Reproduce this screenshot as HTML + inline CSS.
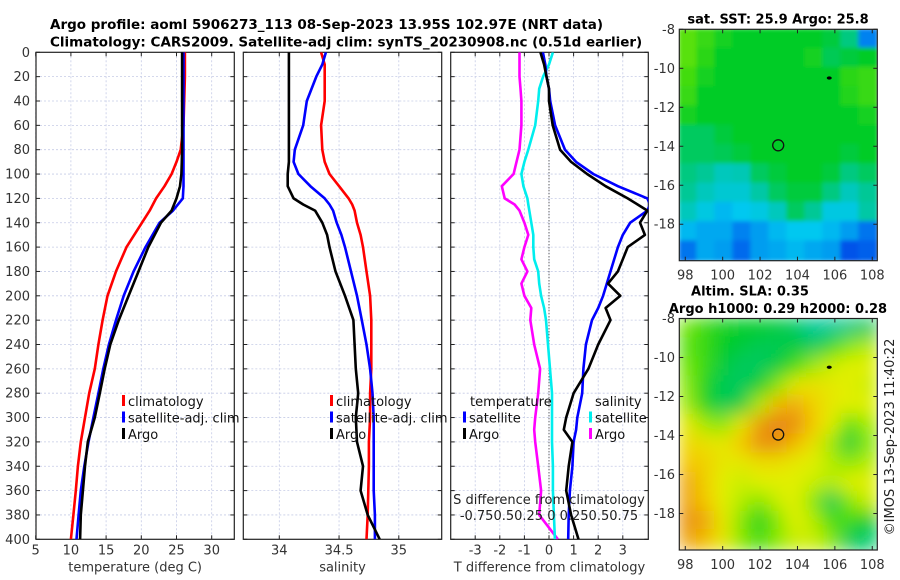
<!DOCTYPE html>
<html><head><meta charset="utf-8">
<style>
html,body{margin:0;padding:0;background:#fff;}
svg{display:block;font-family:"DejaVu Sans","Liberation Sans",sans-serif;}
</style></head>
<body>
<svg id="fig" width="900" height="580" viewBox="0 0 900 580">
<defs>
<filter id="blurS" x="-5%" y="-5%" width="110%" height="110%"><feGaussianBlur stdDeviation="2"/></filter>
<filter id="blurL" x="-5%" y="-5%" width="110%" height="110%"><feGaussianBlur stdDeviation="9"/></filter>
<clipPath id="clipTop"><rect x="679.3" y="29.3" width="198" height="231.4"/></clipPath>
<clipPath id="clipBot"><rect x="679.3" y="318.5" width="198" height="231.5"/></clipPath>
<clipPath id="clipP1"><rect x="36" y="52.3" width="198.3" height="487"/></clipPath>
<clipPath id="clipP2"><rect x="243.3" y="52.3" width="198.4" height="487"/></clipPath>
<clipPath id="clipP3"><rect x="450.7" y="52.3" width="197.6" height="487"/></clipPath>
</defs>
<g font-weight="bold" font-size="13.5" fill="#000">
<text x="50" y="29">Argo profile: aoml 5906273_113 08-Sep-2023 13.95S 102.97E (NRT data)</text>
<text x="50" y="46.5">Climatology: CARS2009. Satellite-adj clim: synTS_20230908.nc (0.51d earlier)</text>
</g>
<g id="layer"></g>
</svg>
<script>
// ---------- profile data ----------
const depthTicks = [0,20,40,60,80,100,120,140,160,180,200,220,240,260,280,300,320,340,360,380,400];
const tempTicks = [5,10,15,20,25,30];
const salTicks = [34,34.5,35];
const salTickLabels = ["34","34.5","35"];
const tdiffTicks = [-3,-2,-1,0,1,2,3];

const tDepth = [0,20,40,60,80,90,100,110,120,130,140,160,180,200,220,240,260,280,300,320,340,360,380,400];
const tClim  = [26.2,26.2,26.1,26.0,25.6,25.0,24.3,23.3,22.1,21.2,20.1,17.9,16.4,15.2,14.5,13.9,13.4,12.6,12.0,11.4,11.0,10.7,10.35,10.0];
const tSat   = [26.0,26.0,26.0,26.0,26.0,26.0,26.0,26.0,25.9,24.5,22.6,20.6,18.9,17.5,16.4,15.4,14.6,13.9,13.2,12.5,11.9,11.4,11.1,10.8];
const tArgo  = [25.8,25.8,25.8,25.8,25.8,25.75,25.7,25.5,25.0,24.3,22.8,21.0,19.6,18.2,16.8,15.6,14.8,14.1,13.4,12.4,12.0,11.7,11.4,11.3];

const sDepth = [0,10,20,40,60,80,90,100,110,120,125,130,140,150,160,180,200,220,240,260,280,300,320,340,360,380,400];
const sClim  = [34.35,34.38,34.38,34.38,34.35,34.36,34.38,34.42,34.50,34.58,34.61,34.63,34.65,34.68,34.70,34.73,34.76,34.77,34.77,34.77,34.76,34.76,34.75,34.75,34.745,34.74,34.73];
const sSat   = [34.39,34.36,34.31,34.23,34.20,34.13,34.12,34.16,34.26,34.38,34.42,34.45,34.48,34.52,34.55,34.60,34.65,34.69,34.73,34.76,34.78,34.79,34.79,34.79,34.79,34.80,34.80];
const sArgo  = [34.08,34.08,34.08,34.08,34.08,34.08,34.08,34.07,34.07,34.12,34.20,34.30,34.36,34.40,34.42,34.47,34.55,34.62,34.63,34.64,34.66,34.64,34.65,34.70,34.68,34.74,34.84];

const dDepth = [0,10,20,30,40,60,80,90,100,110,120,125,130,140,150,160,170,180,190,200,210,220,240,260,280,300,310,320,340,360,380,400];
const dTSat  = [-0.25,-0.15,-0.1,0,0.05,0.25,0.65,1.1,1.8,2.8,4.0,4.1,4.0,3.3,3.0,2.8,2.65,2.5,2.35,2.2,2.0,1.75,1.5,1.4,1.35,1.15,1.1,1.0,0.95,0.85,0.8,0.78];
const dTArgo = [-0.35,-0.2,-0.1,0,0,0.15,0.45,0.9,1.55,2.3,3.2,3.6,4.0,3.7,3.9,3.2,3.0,2.8,2.4,2.9,2.3,2.5,2.0,1.6,1.0,0.7,0.6,0.95,0.8,0.7,0.9,1.2];
const dSSat  = [0.04,0,-0.06,-0.1,-0.11,-0.14,-0.21,-0.25,-0.28,-0.26,-0.22,-0.21,-0.2,-0.18,-0.16,-0.16,-0.15,-0.11,-0.1,-0.08,-0.05,-0.03,-0.01,0.01,0.03,0.03,0.03,0.03,0.04,0.04,0.05,0.06];
const dSArgo = [-0.3,-0.3,-0.3,-0.29,-0.28,-0.28,-0.3,-0.33,-0.36,-0.48,-0.45,-0.35,-0.3,-0.25,-0.21,-0.25,-0.28,-0.22,-0.28,-0.25,-0.18,-0.19,-0.15,-0.09,-0.11,-0.14,-0.15,-0.14,-0.11,-0.08,-0.1,0.09];

// ---------- map data (colour-scale index 0..1), rows lat -8 -> -20, cols lon 98 -> 108 ----------
const sstGrid = [
[.58,.55,.52,.50,.50,.50,.50,.50,.48,.42,.15],
[.58,.54,.50,.50,.50,.50,.50,.52,.46,.48,.50],
[.56,.52,.50,.50,.50,.50,.50,.50,.50,.54,.55],
[.55,.50,.50,.50,.50,.50,.50,.50,.50,.53,.55],
[.52,.50,.50,.50,.50,.50,.50,.50,.50,.50,.52],
[.45,.45,.48,.50,.50,.50,.50,.50,.50,.50,.50],
[.45,.45,.46,.48,.50,.50,.50,.50,.50,.48,.50],
[.42,.40,.35,.36,.45,.48,.50,.50,.48,.42,.45],
[.40,.35,.32,.32,.38,.45,.48,.48,.42,.35,.40],
[.35,.30,.25,.28,.30,.35,.45,.40,.30,.30,.38],
[.25,.22,.22,.15,.20,.25,.28,.28,.25,.20,.12],
[.12,.22,.20,.10,.20,.22,.25,.22,.20,.05,.08]];
const slaGrid = [
[.60,.55,.52,.50,.50,.48,.45,.40,.40,.42,.45],
[.58,.55,.50,.48,.46,.46,.48,.45,.55,.62,.66],
[.60,.55,.48,.45,.45,.48,.56,.64,.68,.70,.70],
[.62,.52,.46,.45,.50,.62,.72,.74,.72,.70,.68],
[.64,.52,.46,.48,.66,.82,.84,.78,.72,.70,.70],
[.72,.64,.62,.72,.86,.90,.88,.80,.70,.58,.65],
[.76,.74,.72,.80,.88,.88,.82,.74,.64,.48,.62],
[.80,.78,.72,.72,.75,.75,.72,.70,.66,.62,.66],
[.85,.78,.70,.68,.70,.70,.70,.68,.66,.70,.70],
[.85,.80,.70,.66,.62,.68,.70,.62,.46,.62,.68],
[.88,.85,.72,.62,.52,.62,.70,.66,.56,.56,.50],
[.85,.82,.72,.62,.56,.62,.68,.68,.62,.46,.44]];
const latTicks = [-8,-10,-12,-14,-16,-18];
const lonTicks = [98,100,102,104,106,108];
const argoPos = [102.97,-13.95];
const otherFloat = [105.7,-10.5];

// ---------- helpers ----------
const NS = "http://www.w3.org/2000/svg";
const layer = document.getElementById('layer');
function mk(tag, attrs, parent){ const e=document.createElementNS(NS,tag); for(const k in attrs) e.setAttribute(k,attrs[k]); (parent||layer).appendChild(e); return e; }
function txt(x,y,s,attrs,parent){ const e=mk('text',Object.assign({x:x,y:y},attrs||{}),parent); e.textContent=s; return e; }

const TOP=52.3, BOT=539.3;
const yD = d => TOP + d*(BOT-TOP)/400;
const P1={l:36,r:234.3}, P2={l:243.3,r:441.7}, P3={l:450.7,r:648.3};
const xT = t => 35.7 + (t-5)*7.04;
const xS = s => 279.3 + (s-34)*119.5;
const xDT = d => 549 + d*24.6;
const xDS = d => 549 + d*4*24.6;

function panel(P, name, xticksPx, xlabels, xlabel, showDepth){
  const g = mk('g',{});
  
  
  depthTicks.forEach(d=>{ if(d>0&&d<400){ const l=mk('line',{x1:P.l,x2:P.r,y1:yD(d),y2:yD(d),stroke:'#c5cbe6','stroke-width':0.8,'stroke-dasharray':'2,2'},g);   }});
  xticksPx.forEach(x=>{ const l=mk('line',{x1:x,x2:x,y1:TOP,y2:BOT,stroke:'#c5cbe6','stroke-width':0.8,'stroke-dasharray':'2,2'},g);   });
  depthTicks.forEach(d=>{ mk('line',{x1:P.l,x2:P.l+4,y1:yD(d),y2:yD(d),stroke:'#222'},g); mk('line',{x1:P.r,x2:P.r-4,y1:yD(d),y2:yD(d),stroke:'#222'},g);
    if(showDepth){ const t=txt(30,yD(d)+4.5,String(d),{'text-anchor':'end','font-size':13,fill:'#333'},g);   } });
  xticksPx.forEach((x,i)=>{ mk('line',{x1:x,x2:x,y1:BOT,y2:BOT-4,stroke:'#222'},g); mk('line',{x1:x,x2:x,y1:TOP,y2:TOP+4,stroke:'#222'},g);
    const t=txt(x,BOT+15,xlabels[i],{'text-anchor':'middle','font-size':13,fill:'#333'},g);   });
  const at=txt((P.l+P.r)/2,BOT+32,xlabel,{'text-anchor':'middle','font-size':13,fill:'#333'},g);
   
  mk('rect',{x:P.l,y:TOP,width:P.r-P.l,height:BOT-TOP,fill:'none',stroke:'#222','stroke-width':1.2},g);
  return g;
}
function series(depths, vals, xf, color, clip, name, w){
  const pts = vals.map((v,i)=>xf(v).toFixed(1)+','+yD(depths[i]).toFixed(1)).join(' ');
  const p = mk('polyline',{points:pts,fill:'none',stroke:color,'stroke-width':w||2.6,'stroke-linejoin':'round','clip-path':'url(#'+clip+')'});
  
  
  return p;
}
function legendEntry(x,y,color,label,name){
  const g=mk('g',{});
  
  
  mk('rect',{x:x,y:y-11,width:3,height:11,fill:color},g);
  txt(x+6,y,label,{'font-size':13,fill:'#111'},g);
}

panel(P1,'temperature-panel',tempTicks.map(xT),tempTicks.map(String),'temperature (deg C)',true);
series(tDepth,tClim,xT,'#ff0000','clipP1','temperature-climatology-line');
series(tDepth,tSat,xT,'#0000ff','clipP1','temperature-satellite-line');
series(tDepth,tArgo,xT,'#000000','clipP1','temperature-argo-line');
legendEntry(122,406,'#ff0000','climatology','legend-climatology');
legendEntry(122,422.5,'#0000ff','satellite-adj. clim','legend-satellite-adj');
legendEntry(122,439,'#000000','Argo','legend-argo');

panel(P2,'salinity-panel',salTicks.map(xS),salTickLabels,'salinity',false);
series(sDepth,sClim,xS,'#ff0000','clipP2','salinity-climatology-line');
series(sDepth,sSat,xS,'#0000ff','clipP2','salinity-satellite-line');
series(sDepth,sArgo,xS,'#000000','clipP2','salinity-argo-line');
legendEntry(330,406,'#ff0000','climatology','legend-climatology-2');
legendEntry(330,422.5,'#0000ff','satellite-adj. clim','legend-satellite-adj-2');
legendEntry(330,439,'#000000','Argo','legend-argo-2');

panel(P3,'difference-panel',tdiffTicks.map(xDT),tdiffTicks.map(String),'T difference from climatology',false);
const zl = mk('line',{x1:549,x2:549,y1:TOP,y2:BOT,stroke:'#333','stroke-width':1,'stroke-dasharray':'1,2'});
 
series(dDepth,dSArgo,xDS,'#ff00ff','clipP3','salinity-argo-diff-line');
series(dDepth,dSSat,xDS,'#00eeee','clipP3','salinity-satellite-diff-line');
series(dDepth,dTSat,xDT,'#0000ff','clipP3','temperature-satellite-diff-line');
series(dDepth,dTArgo,xDT,'#000000','clipP3','temperature-argo-diff-line');
let t;
t=txt(470,406,'temperature',{'font-size':13,fill:'#111'});  
legendEntry(463,422.5,'#0000ff','satellite','legend-temp-satellite');
legendEntry(463,439,'#000000','Argo','legend-temp-argo');
t=txt(595,406,'salinity',{'font-size':13,fill:'#111'});  
legendEntry(589,422.5,'#00eeee','satellite','legend-sal-satellite');
legendEntry(589,439,'#ff00ff','Argo','legend-sal-argo');
t=txt(549,504,'S difference from climatology',{'text-anchor':'middle','font-size':13,fill:'#222'});  
t=txt(549,520,'-0.750.50.25 0 0.250.50.75',{'text-anchor':'middle','font-size':13,fill:'#222'});  

// ---------- maps ----------
const cstops=[[0,[0,60,230]],[0.15,[0,130,240]],[0.28,[0,200,240]],[0.4,[0,200,150]],[0.5,[0,204,40]],[0.6,[110,230,0]],[0.7,[225,240,0]],[0.8,[245,200,0]],[0.9,[230,130,20]],[1,[200,70,0]]];
function cmap(v){ for(let i=1;i<cstops.length;i++){ if(v<=cstops[i][0]){ const a=cstops[i-1],b=cstops[i],f=(v-a[0])/(b[0]-a[0]); const c=a[1].map((x,k)=>Math.round(x+(b[1][k]-x)*f)); return 'rgb('+c.join(',')+')'; } } return 'rgb(200,70,0)'; }
const LON0=97.68, LON1=108.27, LAT0=-8, LAT1=-19.87;
function mapPanel(grid, top, bot, name, clip, filt, titleLines){
  const L=679.3, R=877.3;
  const xL = lon => L + (lon-LON0)*(R-L)/(LON1-LON0);
  const yL = lat => top + (lat-LAT0)*(bot-top)/(LAT1-LAT0);
  const g=mk('g',{});
  
  
  const cg=mk('g',{'clip-path':'url(#'+clip+')'},g);
  const fg=mk('g',{filter:'url(#'+filt+')'},cg);
  const rows=grid.length, cols=grid[0].length;
  const cw=(R-L)/cols, ch=(bot-top)/rows;
  grid.forEach((row,ri)=>row.forEach((v,ci)=>{
    const r=mk('rect',{x:(L+ci*cw-1).toFixed(1),y:(top+ri*ch-1).toFixed(1),width:(cw+2).toFixed(1),height:(ch+2).toFixed(1),fill:cmap(v)},fg);
    
    
  }));
  mk('rect',{x:L,y:top,width:R-L,height:bot-top,fill:'none',stroke:'#222','stroke-width':1.2},g);
  latTicks.forEach(lat=>{ const y=yL(lat); mk('line',{x1:L,x2:L+4,y1:y,y2:y,stroke:'#222'},g); mk('line',{x1:R,x2:R-4,y1:y,y2:y,stroke:'#222'},g);
    const tt=txt(675,y+4.5,String(lat),{'text-anchor':'end','font-size':13,fill:'#333'},g);   });
  lonTicks.forEach(lon=>{ const x=xL(lon); mk('line',{x1:x,x2:x,y1:bot,y2:bot-4,stroke:'#222'},g); mk('line',{x1:x,x2:x,y1:top,y2:top+4,stroke:'#222'},g);
    const tt=txt(x,bot+19,String(lon),{'text-anchor':'middle','font-size':13,fill:'#333'},g);   });
  const c=mk('circle',{cx:xL(argoPos[0]),cy:yL(argoPos[1]),r:5.5,fill:'none',stroke:'#111','stroke-width':1.3},g);
   
  const d=mk('ellipse',{cx:xL(otherFloat[0]),cy:yL(otherFloat[1]),rx:2.5,ry:1.6,fill:'#000'},g);
   
  titleLines.forEach(tl=>{ const tt=txt(tl[0],tl[1],tl[2],{'text-anchor':'middle','font-size':13,'font-weight':'bold',fill:'#000'},g);   });
}
mapPanel(sstGrid,29.3,260.7,'sst-map','clipTop','blurS',[[778,23.5,'sat. SST: 25.9 Argo: 25.8']]);
mapPanel(slaGrid,318.5,550,'sla-map','clipBot','blurL',[[750,295.5,'Altim. SLA: 0.35'],[778,313,'Argo h1000: 0.29 h2000: 0.28']]);
t=txt(0,0,'©IMOS 13-Sep-2023 11:40:22',{'font-size':13,fill:'#222','text-anchor':'middle',transform:'translate(894,437) rotate(-90)'});
 
</script>
</body></html>
